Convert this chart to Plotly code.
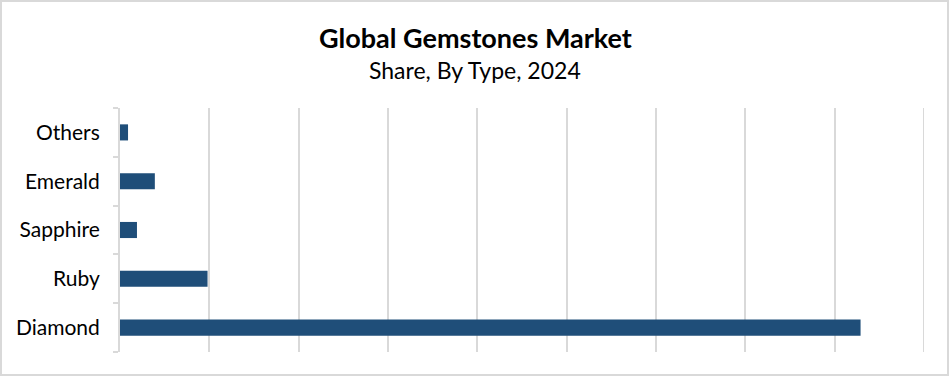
import plotly.graph_objects as go

categories = ["Diamond", "Ruby", "Sapphire", "Emerald", "Others"]
values = [82.9, 9.8, 1.9, 3.9, 0.9]

W, H = 949, 376
L, R, T, B = 120, 25, 108, 24
pw, ph = W - L - R, H - T - B

fig = go.Figure(go.Bar(
    y=categories, x=values, orientation="h",
    marker=dict(color="#1f4e79", line=dict(width=0)),
    width=0.33, hoverinfo="skip",
))

def px2paper_x(px):
    return (px - L) / pw

def px2paper_y(py):
    return (H - B - py) / ph

fig.update_layout(
    width=W, height=H,
    margin=dict(l=L, r=R, t=T, b=B),
    paper_bgcolor="white", plot_bgcolor="white",
    font=dict(family="Lato, Carlito, Calibri, sans-serif", color="#000000"),
    showlegend=False,
    xaxis=dict(range=[0, 90], dtick=10, showticklabels=False, showgrid=True,
               gridcolor="#d9d9d9", gridwidth=2, zeroline=False, showline=False,
               fixedrange=True),
    yaxis=dict(categoryorder="array", categoryarray=categories,
               showline=True, linecolor="#d9d9d9", linewidth=2,
               ticks="outside", tickson="boundaries", ticklen=5,
               tickcolor="#d9d9d9", tickwidth=2,
               tickfont=dict(size=21, color="#000000"), ticklabelstandoff=14,
               showgrid=False, fixedrange=True),
    annotations=[
        dict(text="<b>Global Gemstones Market</b>", xref="paper", yref="paper",
             x=px2paper_x(475), y=px2paper_y(37), showarrow=False,
             xanchor="center", yanchor="middle",
             font=dict(size=27, color="#000000")),
        dict(text="Share, By Type, 2024", xref="paper", yref="paper",
             x=px2paper_x(475), y=px2paper_y(70), showarrow=False,
             xanchor="center", yanchor="middle",
             font=dict(size=23, color="#000000")),
    ],
    shapes=[
        dict(type="rect", xref="paper", yref="paper",
             x0=px2paper_x(1), x1=px2paper_x(948),
             y0=px2paper_y(375), y1=px2paper_y(1),
             line=dict(color="#d9d9d9", width=2), layer="below"),
        dict(type="line", xref="x", yref="paper", x0=90, x1=90, y0=0, y1=1,
             line=dict(color="#d9d9d9", width=2), layer="below"),
    ],
)

fig.write_html("out.html")
